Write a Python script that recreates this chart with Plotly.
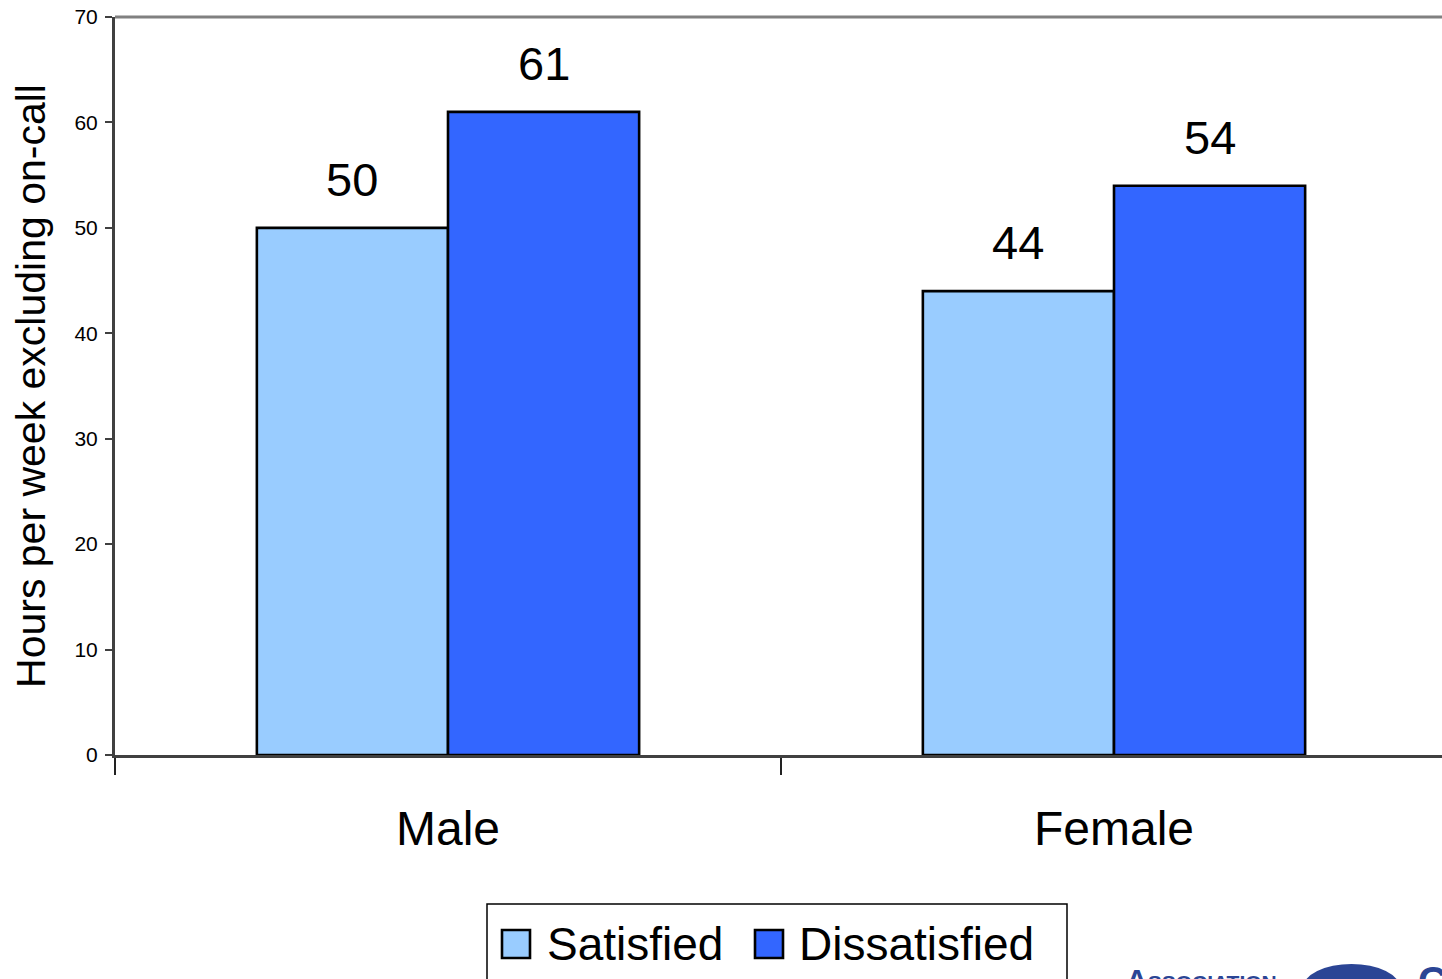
import plotly.graph_objects as go

# Chart data
categories = ["Male", "Female"]
series_names = ["Satisfied", "Dissatisfied"]
satisfied = [50, 44]
dissatisfied = [61, 54]
y_ticks = [0, 10, 20, 30, 40, 50, 60, 70]

W, H = 1442, 979
L, R, T, B = 115, 1442, 17, 755  # plot area in pixels

FONT = "Liberation Sans, Arial, Helvetica, sans-serif"
LIGHT = "#99CCFF"
DARK = "#3366FF"
LOGO = "#2B4595"
BAR_W = 0.287


def px_x(px):
    return (px - L) / (R - L)


def px_y(py):
    return (B - py) / (B - T)


xs = list(range(len(categories)))

fig = go.Figure()
fig.add_trace(go.Bar(
    name=series_names[0], x=xs, y=satisfied, width=BAR_W, offset=-BAR_W,
    marker=dict(color=LIGHT, line=dict(color="black", width=2.6)),
    showlegend=False,
))
fig.add_trace(go.Bar(
    name=series_names[1], x=xs, y=dissatisfied, width=BAR_W, offset=0,
    marker=dict(color=DARK, line=dict(color="black", width=2.6)),
    showlegend=False,
))

annotations = []
# value labels above each bar
for i in xs:
    for val, dx in ((satisfied[i], -BAR_W / 2), (dissatisfied[i], BAR_W / 2)):
        annotations.append(dict(
            x=i + dx, y=val, xref="x", yref="y", text=str(val),
            showarrow=False, yanchor="bottom", yshift=20,
            font=dict(family=FONT, size=47, color="black"),
        ))

# category labels under the axis
for i, c in zip(xs, categories):
    annotations.append(dict(
        x=i, y=px_y(828), xref="x", yref="paper", text=c,
        showarrow=False, yanchor="middle",
        font=dict(family=FONT, size=48, color="black"),
    ))

# legend entries
annotations.append(dict(
    x=px_x(545), y=px_y(944), xref="paper", yref="paper", text=series_names[0],
    showarrow=False, xanchor="left", yanchor="middle",
    font=dict(family=FONT, size=46, color="black"),
))
annotations.append(dict(
    x=px_x(797), y=px_y(944), xref="paper", yref="paper", text=series_names[1],
    showarrow=False, xanchor="left", yanchor="middle",
    font=dict(family=FONT, size=46, color="black"),
))

# partial organisation logo in the corner
annotations.append(dict(
    x=px_x(1124), y=px_y(961), xref="paper", yref="paper", text="<b>Association</b>",
    showarrow=False, xanchor="left", yanchor="top",
    font=dict(family=FONT, size=30, color=LOGO, variant="small-caps"),
))
annotations.append(dict(
    x=px_x(1416), y=px_y(957), xref="paper", yref="paper", text="<b>C</b>",
    showarrow=False, xanchor="left", yanchor="top",
    font=dict(family=FONT, size=40, color=LOGO),
))

shapes = [
    # top frame line
    dict(type="line", xref="paper", yref="paper", x0=0, x1=1.01, y0=1, y1=1,
         line=dict(color="#808080", width=3)),
    # legend frame
    dict(type="rect", xref="paper", yref="paper",
         x0=px_x(487), x1=px_x(1067), y0=px_y(1000), y1=px_y(904),
         line=dict(color="black", width=1.5), fillcolor="rgba(0,0,0,0)"),
    # legend swatches
    dict(type="rect", xref="paper", yref="paper",
         x0=px_x(502), x1=px_x(530), y0=px_y(958), y1=px_y(930),
         line=dict(color="black", width=2.6), fillcolor=LIGHT),
    dict(type="rect", xref="paper", yref="paper",
         x0=px_x(755), x1=px_x(783), y0=px_y(958), y1=px_y(930),
         line=dict(color="black", width=2.6), fillcolor=DARK),
    # logo emblem
    dict(type="circle", xref="paper", yref="paper",
         x0=px_x(1303), x1=px_x(1400), y0=px_y(1012), y1=px_y(964),
         line=dict(color=LOGO, width=0), fillcolor=LOGO),
]

fig.update_layout(
    width=W, height=H,
    margin=dict(l=L, r=W - R, t=T, b=H - B, pad=0),
    paper_bgcolor="white", plot_bgcolor="white",
    barmode="overlay",
    font=dict(family=FONT, color="black"),
    annotations=annotations,
    shapes=shapes,
    xaxis=dict(
        type="linear",
        range=[-0.5, -0.5 + (R - L) / 666],
        tickvals=[-0.5, 0.5, 1.5], showticklabels=False,
        ticks="outside", ticklen=17, tickwidth=2, tickcolor="#222222",
        showline=True, linecolor="#404040", linewidth=3,
        showgrid=False, zeroline=False,
    ),
    yaxis=dict(
        range=[0, 70], tickvals=y_ticks,
        ticks="outside", ticklen=7, tickwidth=2, tickcolor="#404040",
        showline=True, linecolor="#404040", linewidth=3,
        showgrid=False, zeroline=False,
        tickfont=dict(family=FONT, size=21, color="black"),
        ticklabelstandoff=3,
        title=dict(text="Hours per week excluding on-call", standoff=17,
                   font=dict(family=FONT, size=41, color="black")),
    ),
)

fig.write_html("out.html")
